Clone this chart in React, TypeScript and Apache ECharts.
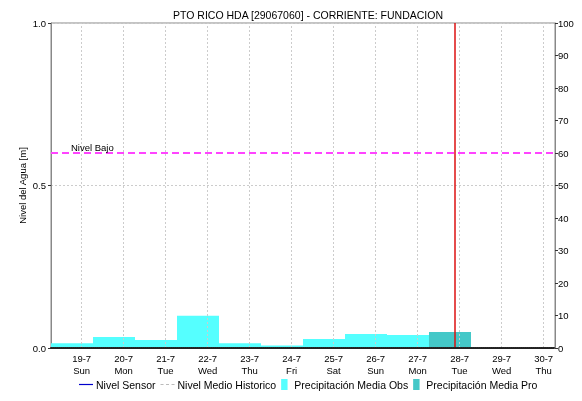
import React, { useEffect, useRef } from "react";
import * as echarts from "echarts";

const chartTitle = "PTO RICO HDA [29067060] - CORRIENTE: FUNDACION";
const dayLabels = ["19-7", "20-7", "21-7", "22-7", "23-7", "24-7", "25-7", "26-7", "27-7", "28-7", "29-7", "30-7"];
const weekdays = ["Sun", "Mon", "Tue", "Wed", "Thu", "Fri", "Sat", "Sun", "Mon", "Tue", "Wed", "Thu"];
// daily precipitation (mm), each bar spans 06:30 -> 06:30 starting 18-7
const obsPrecip = [1.5, 3.4, 2.5, 9.9, 1.5, 0.8, 2.8, 4.3, 4.0];
const proPrecip = [4.9];
const nivelBajo = 0.6;
// x in days relative to 19-7 00:00
const xStart = -17.5 / 24;
const xEnd = xStart + 12;
const nowX = 8.89;

const FONT = "'Liberation Sans', Arial, sans-serif";

export default function App() {
  const ref = useRef<HTMLDivElement>(null);
  useEffect(() => {
    if (!ref.current) return;
    const chart = echarts.init(ref.current, null, { renderer: "svg" });
    const dayIdx = dayLabels.map((_, i) => i);
    const obsData = obsPrecip.map((v, i) => [xStart + i, xStart + i + 1, v]);
    const proData = proPrecip.map((v, i) => [xStart + obsPrecip.length + i, xStart + obsPrecip.length + i + 1, v]);
    const rectItem = (color: string) => (params: any, api: any) => {
      const s = api.value(0), e = api.value(1), v = api.value(2);
      const p0 = api.coord([s, v]);
      const p1 = api.coord([e, 0]);
      return {
        type: "rect",
        shape: { x: p0[0], y: p0[1], width: p1[0] - p0[0], height: p1[1] - p0[1] },
        style: { fill: color },
      };
    };
    chart.setOption({
      animation: false,
      textStyle: { fontFamily: FONT },
      title: {
        text: chartTitle,
        left: 303,
        textAlign: "center",
        top: 4,
        textStyle: { fontSize: 10.5, fontWeight: "normal", color: "#000", fontFamily: FONT },
      },
      grid: { left: 51, right: 27, top: 23, bottom: 53, show: true, borderColor: "#888", borderWidth: 1, backgroundColor: "transparent" },
      legend: {
        bottom: 6,
        left: 74,
        itemGap: 5,
        itemWidth: 14,
        itemHeight: 11,
        textStyle: { fontSize: 10.5, color: "#000", fontFamily: FONT, padding: [0, 0, 0, -2] },
        data: [
          { name: "Nivel Sensor", icon: "path://M0,0h14v1.2h-14z" },
          { name: "Nivel Medio Historico", icon: "path://M0,0h3v1.2h-3zM5.5,0h3v1.2h-3zM11,0h3v1.2h-3z" },
          { name: "Precipitación Media Obs", icon: "path://M0,0h7v12h-7z" },
          { name: "Precipitación Media Pro", icon: "path://M0,0h7v12h-7z" },
        ],
      },
      xAxis: {
        type: "value",
        min: xStart,
        max: xEnd,
        z: 5,
        axisLine: { show: true, onZero: false, lineStyle: { color: "#222", type: [1, 1], width: 2 } },
        axisTick: { show: false },
        splitLine: { show: false },
        axisLabel: {
          customValues: dayIdx,
          formatter: (v: number) => {
            const i = Math.round(v);
            return `${dayLabels[i]}\n${weekdays[i]}`;
          },
          fontSize: 9.5,
          lineHeight: 12,
          color: "#000",
          margin: 4,
          fontFamily: FONT,
        },
      },
      yAxis: [
        {
          type: "value",
          min: 0,
          max: 1,
          interval: 0.5,
          name: "Nivel del Agua [m]",
          nameLocation: "middle",
          nameGap: 24,
          nameMoveOverlap: false,
          nameTextStyle: { fontSize: 9.5, color: "#000", fontFamily: FONT },
          axisLine: { show: true, onZero: false, lineStyle: { color: "#888" } },
          axisTick: { show: true, length: 3, lineStyle: { color: "#333" } },
          axisLabel: { formatter: (v: number) => v.toFixed(1), fontSize: 9.5, color: "#000", margin: 5, fontFamily: FONT },
          splitLine: { show: true, lineStyle: { color: "#ccc", type: [2, 2] } },
        },
        {
          type: "value",
          min: 0,
          max: 100,
          interval: 10,
          position: "right",
          axisLine: { show: true, onZero: false, lineStyle: { color: "#888" } },
          axisTick: { show: true, length: 3, lineStyle: { color: "#333" } },
          axisLabel: { fontSize: 9.5, color: "#000", margin: 3, fontFamily: FONT },
          splitLine: { show: false },
        },
      ],
      series: [
        {
          name: "Nivel Sensor",
          type: "line",
          data: [],
          color: "#0000cc",
          symbol: "none",
          lineStyle: { color: "#0000cc", width: 1 },
          z: 1,
          markLine: {
            silent: true,
            symbol: "none",
            label: { show: false },
            lineStyle: { color: "#cccccc", type: [2, 2], width: 1 },
            data: dayIdx.map((i) => ({ xAxis: i })),
          },
        },
        {
          name: "Nivel Medio Historico",
          type: "line",
          data: [],
          color: "#bbbbbb",
          symbol: "none",
          lineStyle: { color: "#bbbbbb", width: 1, type: [3, 3] },
          z: 1,
        },
        {
          name: "Precipitación Media Obs",
          type: "custom",
          yAxisIndex: 1,
          color: "#55ffff",
          encode: { x: [0, 1], y: 2 },
          renderItem: rectItem("#55ffff"),
          data: obsData,
          z: 2,
        },
        {
          name: "Precipitación Media Pro",
          type: "custom",
          yAxisIndex: 1,
          color: "#44c8c8",
          encode: { x: [0, 1], y: 2 },
          renderItem: rectItem("#44c8c8"),
          data: proData,
          z: 2,
        },
        {
          name: "lines",
          type: "line",
          data: [],
          z: 3,
          markLine: {
            silent: true,
            symbol: "none",
            data: [
              {
                yAxis: nivelBajo,
                lineStyle: { color: "#ff44ff", type: [7, 4], width: 2 },
                label: {
                  show: true,
                  formatter: "Nivel Bajo",
                  position: "insideStartTop",
                  distance: [20, 1],
                  fontSize: 9.5,
                  color: "#000",
                  fontFamily: FONT,
                },
              },
              {
                xAxis: nowX,
                lineStyle: { color: "#dd1111", type: "solid", width: 1.5 },
                label: { show: false },
              },
            ],
          },
        },
      ],
    });
    return () => chart.dispose();
  }, []);
  return <div ref={ref} style={{ position: "fixed", left: 0, top: 0, width: 582, height: 401 }} />;
}
